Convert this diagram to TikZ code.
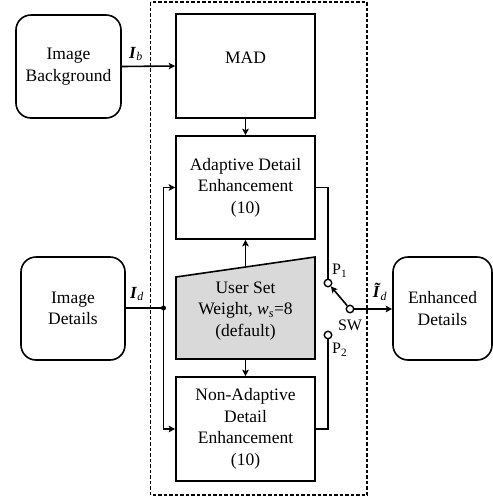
\documentclass[tikz,border=0pt]{standalone}
\usepackage{fontspec}
\setmainfont{Liberation Serif}
\usetikzlibrary{arrows.meta}
\begin{document}
\begin{tikzpicture}[x=1pt,y=-1pt,
  wire/.style={line width=1.6pt},
  arr/.style={wire,-{Stealth[length=6.5pt,width=6.5pt,inset=1.5pt]}},
  blk/.style={draw,line width=1.6pt,inner sep=0pt,align=center,
    font=\fontsize{17.5}{21.5}\selectfont},
  rbox/.style={blk,rounded corners=15pt},
  txt/.style={inner sep=0pt,align=center,font=\fontsize{17.5}{21.5}\selectfont},
  lbl/.style={inner sep=0pt,font=\fontsize{16}{18}\selectfont},
  pin/.style={circle,draw,fill=white,line width=1.4pt,minimum size=7.5pt,inner sep=0pt}]
\useasboundingbox (0,0) rectangle (493,499);
% dashed enclosure
\draw[line width=1.3pt,dash pattern=on 3.5pt off 2pt] (150.5,2) rectangle (367,495);
% outer boxes
\node[rbox,minimum width=105pt,minimum height=103pt] (bg) at (68.5,66.5) {Image\\Background};
\node[rbox,minimum width=104pt,minimum height=103pt] (det) at (73,308.5) {Image\\Details};
\node[rbox,minimum width=99pt,minimum height=103pt] (enh) at (442.5,308.5) {Enhanced\\Details};
% inner blocks
\node[blk,minimum width=139pt,minimum height=104pt] (mad) at (245.5,66) {};
\node[txt] (madt) at (245.5,58) {MAD};
\node[blk,minimum width=139pt,minimum height=103pt] (ade) at (245.5,187.5) {Adaptive Detail\\Enhancement\\(10)};
\node[blk,minimum width=139pt,minimum height=104pt] (nade) at (245.5,429) {Non-Adaptive\\Detail\\Enhancement\\(10)};
% user set weight (manual input shape)
\draw[wire,fill=gray!30] (176,277) -- (315,257) -- (315,359) -- (176,359) -- cycle;
\node[txt] (usw) at (245.5,311) {User Set\\Weight, \textit{w}\textsubscript{\textit{s}}=8\\(default)};
\coordinate (uswtop) at (245.5,267);
\coordinate (uswbot) at (245.5,359);
% junction and switch
\coordinate (j) at (163.5,308);
\fill (j) circle (2.5pt);
\node[pin] (p1) at (328,283) {};
\node[pin] (p2) at (328,335) {};
\node[pin] (sw) at (350,309) {};
% connectors
\draw[arr] (bg.east) -- (mad.west);
\draw[arr] (mad.south) -- (ade.north);
\draw[wire] (det.east |- j) -- (j);
\draw[arr] (j) |- (ade.west);
\draw[arr] (j) |- (nade.west);
\draw[arr] (uswtop) -- (ade.south);
\draw[arr] (uswbot) -- (nade.north);
\draw[wire] (ade.east) -| (p1.north);
\draw[wire] (nade.east) -| (p2.south);
\draw[arr] (sw) -- (p1);
\draw[arr] (sw.east) -- (enh.west |- sw);
% labels
\node[lbl] (lib) at (136,54) {\fontsize{17}{18}\selectfont\textbf{\textit{I}}\textsubscript{\textit{b}}};
\node[lbl] (lid) at (137,294) {\fontsize{17}{18}\selectfont\textbf{\textit{I}}\textsubscript{\textit{d}}};
\node[lbl] (lidt) at (380,292) {\fontsize{17}{18}\selectfont\textbf{\textit{\~{I}}}\textsubscript{\textit{d}}};
\node[lbl,anchor=west] (lp1) at (332,271) {P\textsubscript{1}};
\node[lbl,anchor=west] (lp2) at (332,350) {P\textsubscript{2}};
\node[lbl] (lsw) at (350,325) {SW};
\end{tikzpicture}
\end{document}
